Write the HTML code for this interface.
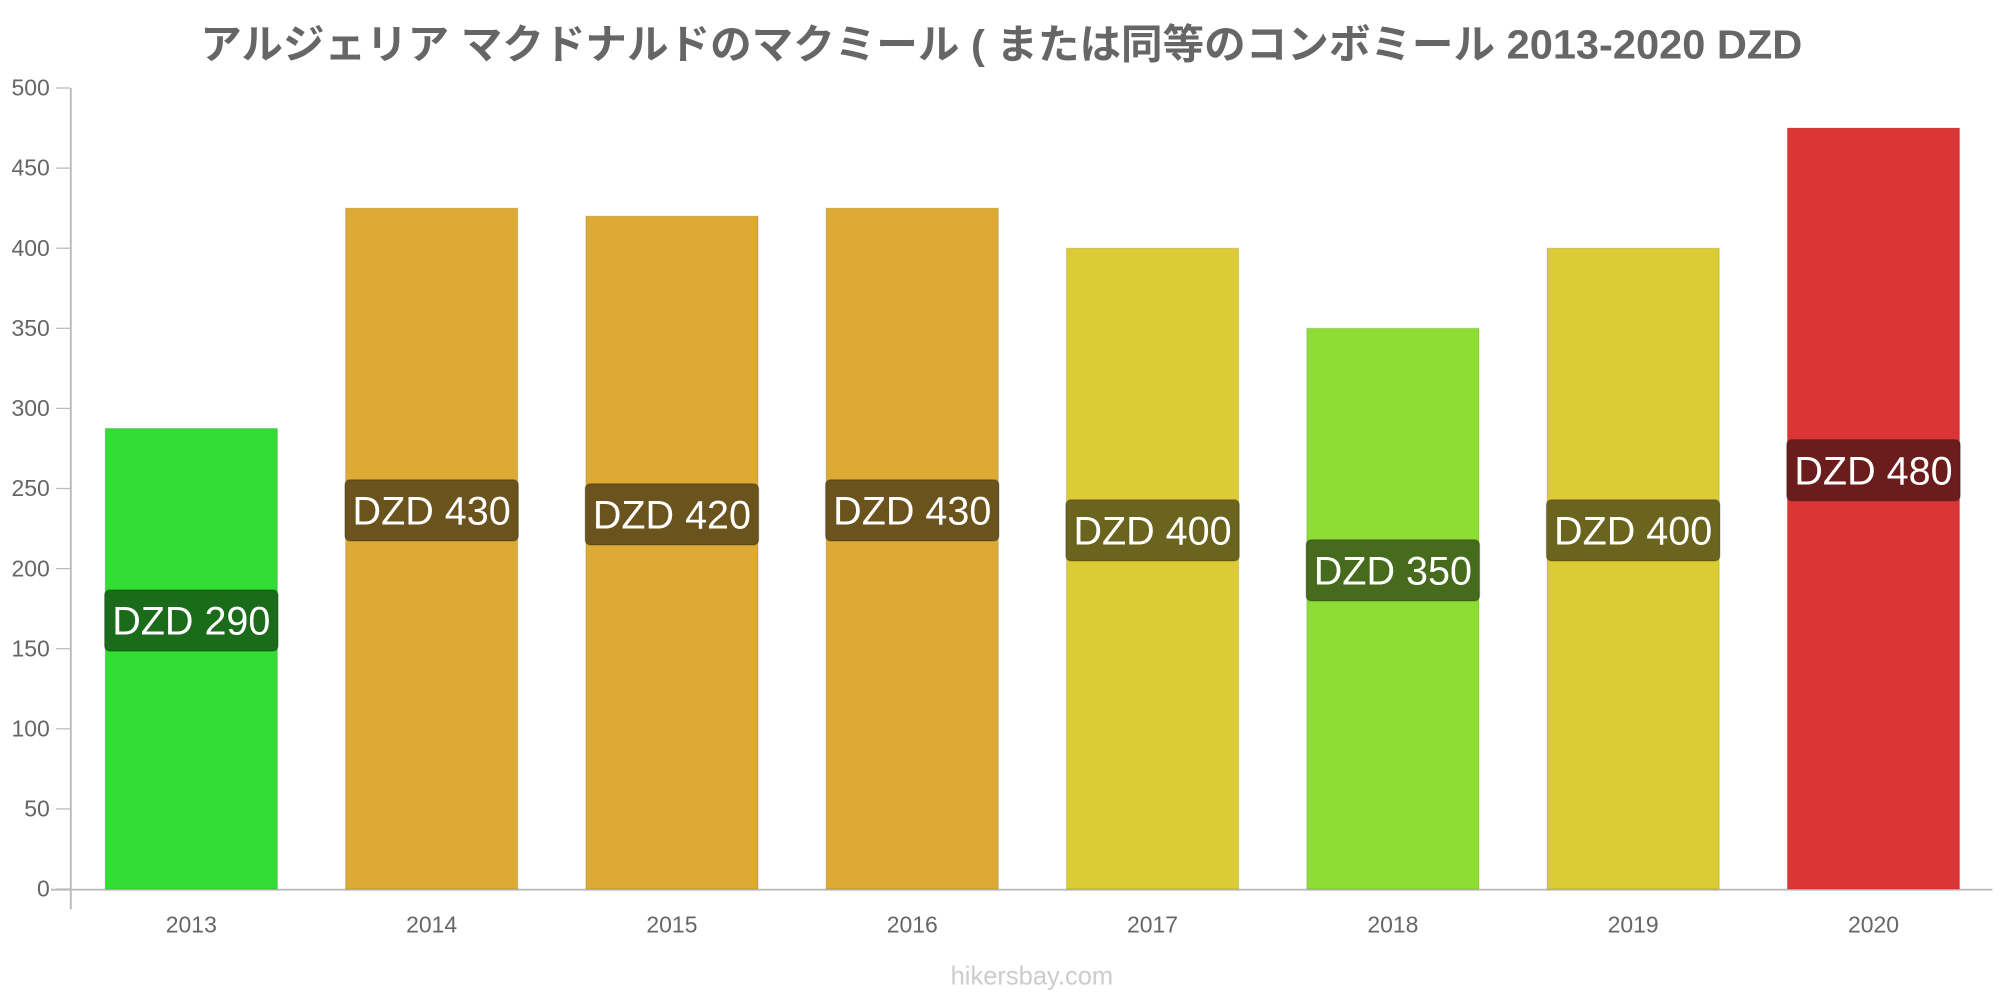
<!DOCTYPE html>
<html><head><meta charset="utf-8"><style>
html,body{margin:0;padding:0;background:#fff;width:2000px;height:1000px;overflow:hidden}
svg text{font-family:"Liberation Sans","Noto Sans CJK JP",sans-serif}
</style></head><body>
<svg id="chart" width="2000" height="1000" viewBox="0 0 1568 784" preserveAspectRatio="none" xmlns="http://www.w3.org/2000/svg">
<text x="785" y="46" text-anchor="middle" font-size="32" font-weight="bold" fill="#666" textLength="1256" lengthAdjust="spacingAndGlyphs">アルジェリア マクドナルドのマクミール ( または同等のコンボミール 2013-2020 DZD</text>
<line x1="55.5" y1="69" x2="55.5" y2="713" stroke="#bbb" stroke-width="1.5"/>
<line x1="40" y1="697.5" x2="1562" y2="697.5" stroke="#bbb" stroke-width="1.5"/>
<g id="yt"></g><g id="bars"></g>
<text x="809" y="772" text-anchor="middle" font-size="20" fill="#ccc">hikersbay.com</text>
</svg>
<script>
const categories=["2013","2014","2015","2016","2017","2018","2019","2020"];
const values=[287.5,425,420,425,400,350,400,475];
const labels=["DZD 290","DZD 430","DZD 420","DZD 430","DZD 400","DZD 350","DZD 400","DZD 480"];
const fills=["#33dd33","#dcaa35","#dcaa35","#dcaa35","#dbcb35","#8ddd35","#dbcb35","#db3535"];
const labelBgs=["#1a6b1a","#6b531d","#6b531d","#6b531d","#6b641e","#466b1c","#6b641e","#6b1c1c"];
const yTicks=[0,50,100,150,200,250,300,350,400,450,500];
const NS="http://www.w3.org/2000/svg";
const y=v=>697-v*628/500;
const xc=i=>150+i*188.4;
function mk(t,a,p){const e=document.createElementNS(NS,t);for(const k in a)e.setAttribute(k,a[k]);p.appendChild(e);return e;}
const yt=document.getElementById('yt'),bars=document.getElementById('bars');
yTicks.forEach(t=>{
 const tx=mk('text',{x:39,y:y(t)+6,'text-anchor':'end','font-size':18,fill:'#666'},yt);
 tx.textContent=t;
 
 
 const tl=mk('line',{x1:44,x2:55,y1:y(t),y2:y(t),stroke:'#bbb'},yt);
 
 
});
categories.forEach((c,i)=>{
 const r=mk('rect',{x:xc(i)-67.5,y:y(values[i]),width:135,height:697-y(values[i]),fill:fills[i],stroke:'rgba(0,0,0,0.1)'},bars);
 
 
 const cy=y(values[i]/2)-30;
 const b=mk('rect',{x:xc(i)-68,y:cy-24,width:136,height:48,rx:4,fill:labelBgs[i],stroke:'rgba(0,0,0,0.2)'},bars);
 
 
 const lt=mk('text',{x:xc(i),y:cy+11,'text-anchor':'middle','font-size':31,fill:'#fff'},bars);
 lt.textContent=labels[i];
 
 
 const xt=mk('text',{x:xc(i),y:731,'text-anchor':'middle','font-size':18,fill:'#666'},bars);
 xt.textContent=c;
 
 
});
</script>
</body></html>
